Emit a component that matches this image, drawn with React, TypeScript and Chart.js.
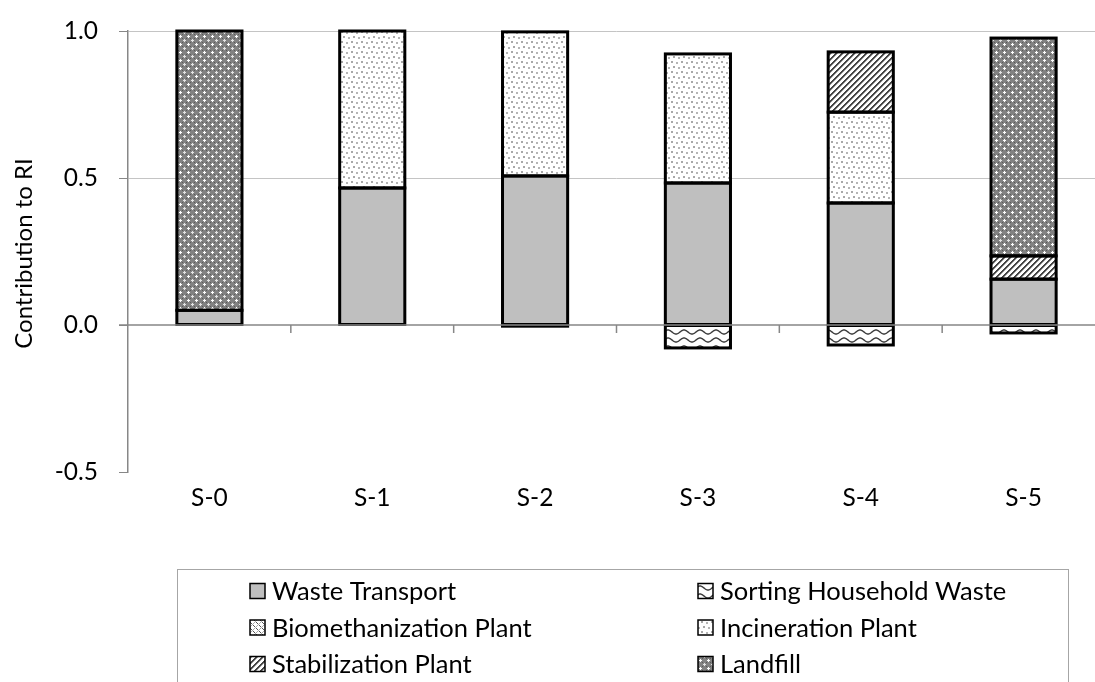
import React, { useEffect, useRef } from 'react';
import { Chart, registerables } from 'chart.js';

Chart.register(...registerables);

// ---- data ----
const categories = ['S-0', 'S-1', 'S-2', 'S-3', 'S-4', 'S-5'];
const seriesNames = [
  'Waste Transport',
  'Sorting Household Waste',
  'Biomethanization Plant',
  'Incineration Plant',
  'Stabilization Plant',
  'Landfill',
];
const wasteTransport = [0.05, 0.466, 0.507, 0.483, 0.415, 0.156];
const sortingHouseholdWaste = [0, 0, -0.004, -0.078, -0.068, -0.027];
const biomethanizationPlant = [0, 0, 0, 0, 0, 0];
const incinerationPlant = [0, 0.534, 0.49, 0.439, 0.309, 0];
const stabilizationPlant = [0, 0, 0, 0, 0.205, 0.079];
const landfill = [0.95, 0, 0, 0, 0, 0.741];
const yMin = -0.5;
const yMax = 1.0;
const yStep = 0.5;
const yTitle = 'Contribution to RI';

const FONT = 'Lato, "Open Sans", sans-serif';
const AXIS_FONT_SIZE = 24.5;
const TITLE_FONT_SIZE = 24;
const LEGEND_FONT_SIZE = 25.5;

function makeTile(w: number, h: number, draw: (g: CanvasRenderingContext2D) => void) {
  const c = document.createElement('canvas');
  c.width = w;
  c.height = h;
  const g = c.getContext('2d')!;
  draw(g);
  return c;
}

function buildPatterns(ctx: CanvasRenderingContext2D) {
  const px = (g: CanvasRenderingContext2D, x: number, y: number, col: string, s = 1) => {
    g.fillStyle = col;
    g.fillRect(x, y, s, s);
  };
  const sorting = makeTile(16, 8, (g) => {
    g.fillStyle = '#fff';
    g.fillRect(0, 0, 16, 8);
    g.strokeStyle = '#3a3a3a';
    g.lineWidth = 1.4;
    g.beginPath();
    for (let x = -1; x <= 17; x += 0.5) {
      const y = 4 + 2 * Math.sin((2 * Math.PI * x) / 16);
      if (x === -1) g.moveTo(x, y);
      else g.lineTo(x, y);
    }
    g.stroke();
  });
  const biometh = makeTile(6, 6, (g) => {
    g.fillStyle = '#fff';
    g.fillRect(0, 0, 6, 6);
    for (let i = 0; i < 6; i++) {
      px(g, i, i, '#555');
      px(g, (6 - i) % 6, i, '#aaa');
    }
  });
  const incin = makeTile(10, 10, (g) => {
    g.fillStyle = '#fff';
    g.fillRect(0, 0, 10, 10);
    px(g, 1, 1, '#a8a8a8', 2);
    px(g, 6, 2, '#b4b4b4', 2);
    px(g, 3, 6, '#a8a8a8', 2);
    px(g, 8, 7, '#b4b4b4', 2);
  });
  const stab = makeTile(6, 6, (g) => {
    g.fillStyle = '#fff';
    g.fillRect(0, 0, 6, 6);
    for (let x = 0; x < 6; x++)
      for (let y = 0; y < 6; y++) {
        const m = (x + y) % 6;
        if (m === 0 || m === 1) px(g, x, y, '#444');
        else if (m === 2) px(g, x, y, '#a0a0a0');
      }
  });
  const land = makeTile(8, 8, (g) => {
    g.fillStyle = '#828282';
    g.fillRect(0, 0, 8, 8);
    const cross = (cx: number, cy: number, col: string) => {
      px(g, cx, cy, col);
      px(g, (cx + 1) % 8, cy, col);
      px(g, (cx + 7) % 8, cy, col);
      px(g, cx, (cy + 1) % 8, col);
      px(g, cx, (cy + 7) % 8, col);
    };
    cross(4, 4, '#ffffff');
    cross(0, 0, '#e4e4e4');
    px(g, 2, 2, '#5a5a5a');
    px(g, 6, 6, '#5a5a5a');
    px(g, 2, 6, '#5a5a5a');
    px(g, 6, 2, '#5a5a5a');
  });
  return [
    '#bfbfbf',
    ctx.createPattern(sorting, 'repeat'),
    ctx.createPattern(biometh, 'repeat'),
    ctx.createPattern(incin, 'repeat'),
    ctx.createPattern(stab, 'repeat'),
    ctx.createPattern(land, 'repeat'),
  ];
}

export default function App() {
  const ref = useRef<HTMLCanvasElement | null>(null);

  useEffect(() => {
    const canvas = ref.current!;
    const ctx = canvas.getContext('2d')!;
    const fills = buildPatterns(ctx);
    const seriesValues = [
      wasteTransport,
      sortingHouseholdWaste,
      biomethanizationPlant,
      incinerationPlant,
      stabilizationPlant,
      landfill,
    ];

    const overlay = {
      id: 'overlay',
      afterDatasetsDraw(chart: any) {
        const c = chart.ctx;
        const { chartArea } = chart;
        const xs = chart.scales.x;
        const ys = chart.scales.y;
        c.save();
        c.strokeStyle = '#000';
        c.lineWidth = 3;
        chart.data.datasets.forEach((ds: any, i: number) => {
          const meta = chart.getDatasetMeta(i);
          meta.data.forEach((el: any, j: number) => {
            if (!ds.data[j]) return;
            const { x, y, base, width } = el.getProps(['x', 'y', 'base', 'width'], true);
            c.strokeRect(x - width / 2, Math.min(y, base), width, Math.abs(base - y));
          });
        });
        const y0 = ys.getPixelForValue(0);
        c.strokeStyle = '#878787';
        c.lineWidth = 1.5;
        c.beginPath();
        c.moveTo(chartArea.left - 9, y0);
        c.lineTo(chartArea.right, y0);
        const n = categories.length;
        for (let i = 1; i <= n; i++) {
          const b =
            i < n
              ? (xs.getPixelForValue(i - 1) + xs.getPixelForValue(i)) / 2
              : chartArea.right;
          c.moveTo(b, y0);
          c.lineTo(b, y0 + 8);
        }
        c.stroke();
        c.restore();
      },
      afterDraw(chart: any) {
        const c = chart.ctx;
        const { chartArea } = chart;
        c.save();
        // y-axis title, centred on the plot area
        c.save();
        c.translate(24, (chartArea.top + chartArea.bottom) / 2 + 2);
        c.rotate(-Math.PI / 2);
        c.font = `${TITLE_FONT_SIZE}px ${FONT}`;
        c.fillStyle = '#000';
        c.textAlign = 'center';
        c.textBaseline = 'middle';
        c.fillText(yTitle, 0, 0);
        c.restore();
        // legend
        c.strokeStyle = '#a6a6a6';
        c.lineWidth = 1;
        c.strokeRect(177.5, 569.5, 891, 200);
        const colX = [250, 698];
        const rowY = [591, 627.5, 664];
        c.font = `${LEGEND_FONT_SIZE}px ${FONT}`;
        c.textBaseline = 'middle';
        c.textAlign = 'left';
        chart.data.datasets.forEach((ds: any, i: number) => {
          const col = i % 2;
          const row = Math.floor(i / 2);
          const mx = colX[col];
          const my = rowY[row];
          c.fillStyle = ds.backgroundColor;
          c.fillRect(mx, my - 7.5, 15, 15);
          c.strokeStyle = '#000';
          c.lineWidth = 1.5;
          c.strokeRect(mx, my - 7.5, 15, 15);
          c.fillStyle = '#000';
          c.fillText(ds.label, mx + 22, my + 1);
        });
        c.restore();
      },
    };

    const chart = new Chart(canvas, {
      type: 'bar',
      data: {
        labels: categories,
        datasets: seriesNames.map((name, i) => ({
          label: name,
          data: seriesValues[i],
          backgroundColor: fills[i] as any,
          borderWidth: 0,
          barPercentage: 0.4,
          categoryPercentage: 1,
        })),
      },
      options: {
        responsive: false,
        maintainAspectRatio: false,
        devicePixelRatio: 1,
        animation: false,
        layout: { padding: { top: 31, left: 0, right: 0, bottom: 0 } },
        plugins: {
          legend: { display: false },
          tooltip: { enabled: false },
        },
        scales: {
          x: {
            stacked: true,
            grid: { display: false, drawTicks: false },
            border: { display: false },
            ticks: {
              color: '#000',
              padding: 11,
              font: { family: FONT, size: AXIS_FONT_SIZE },
            },
            afterFit: (s: any) => {
              s.height = 210;
            },
          },
          y: {
            stacked: true,
            min: yMin,
            max: yMax,
            ticks: {
              stepSize: yStep,
              color: '#000',
              padding: 21,
              font: { family: FONT, size: AXIS_FONT_SIZE },
              callback: (v: any) => Number(v).toFixed(1),
            },
            grid: {
              color: (c: any) => (c.tick && c.tick.value > 0 ? '#c4c4c4' : 'rgba(0,0,0,0)'),
              tickColor: '#878787',
              tickLength: 9,
              lineWidth: 1,
            },
            border: { color: '#878787', width: 1.5 },
            title: { display: false },
            afterFit: (s: any) => {
              s.width = 128;
              s.paddingTop = 0;
              s.paddingBottom = 0;
            },
          },
        },
      },
      plugins: [overlay],
    });
    return () => chart.destroy();
  }, []);

  return (
    <div
      style={{
        position: 'fixed',
        left: 0,
        top: 0,
        width: 1095,
        height: 682,
        overflow: 'hidden',
        background: '#fff',
      }}
    >
      <canvas
        ref={ref}
        width={1105}
        height={682}
        style={{ display: 'block', width: 1105, height: 682 }}
      />
    </div>
  );
}
